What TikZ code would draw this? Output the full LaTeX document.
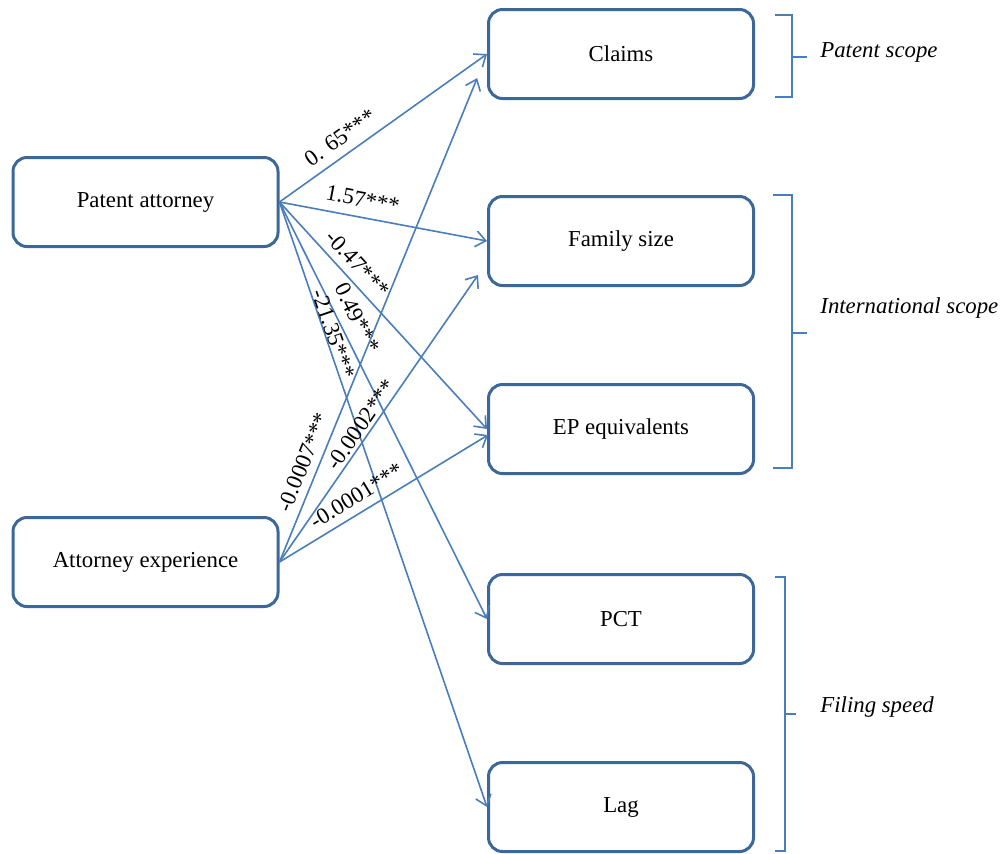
\documentclass[tikz,border=0pt]{standalone}
\usepackage{fontspec}
\setmainfont{Liberation Serif}
\usetikzlibrary{arrows.meta}
\definecolor{boxc}{HTML}{3B6799}
\definecolor{linec}{HTML}{4A7EBB}
\tikzset{
  ar/.style={-{Straight Barb[length=5pt,width=8pt]},line width=0.8pt,linec},
  box/.style={draw=boxc,line width=1.5pt,rounded corners=7pt,fill=white,minimum width=132.5pt,minimum height=44.5pt,inner sep=0pt,font=\fontsize{11.4}{13}\selectfont},
  lbl/.style={font=\fontsize{11.4}{13}\selectfont,text=black,sloped,inner sep=1pt},
  brk/.style={line width=0.8pt,linec},
  grp/.style={font=\fontsize{11.4}{13}\selectfont\itshape,anchor=west,inner sep=0pt}
}
\begin{document}
\begin{tikzpicture}[x=0.5pt,y=-0.5pt]
\useasboundingbox (0,0) rectangle (1000,853);
\node[box] (pa) at (145.5,202) {Patent attorney};
\node[box] (ae) at (145.5,562) {Attorney experience};
\node[box] (cl) at (621,54) {Claims};
\node[box] (fs) at (621,241) {Family size};
\node[box] (ep) at (621,429) {EP equivalents};
\node[box] (pct) at (621,619) {PCT};
\node[box] (lag) at (621,807) {Lag};
\coordinate (fsin) at (478,275);
\coordinate (epin) at (488,435);
\draw[ar] (pa.east) -- node[lbl,pos=0.34,above=3.4pt] {0. 65***} (cl.west);
\draw[ar] (pa.east) -- node[lbl,pos=0.385,above=3.7pt] {1.57***} (fs.west);
\draw[ar] (pa.east) -- node[lbl,pos=0.32,above=2.8pt] {-0.47***} (ep.west);
\draw[ar] (pa.east) -- node[lbl,pos=0.297,above=3.8pt] {0.49***} (pct.west);
\draw[ar] (pa.east) -- node[lbl,pos=0.222,above=-1.2pt] {-21.35***} (lag.west);
\draw[ar,shorten >=13pt] (ae.east) -- node[lbl,pos=0.185,above=2.6pt] {-0.0007***} (cl.west);
\draw[ar] (ae.east) -- node[lbl,pos=0.457,above=0.3pt] {-0.0002***} (fsin);
\draw[ar] (ae.east) -- node[lbl,pos=0.41,above=3.1pt] {-0.0001***} (epin);
\draw[brk] (775,15) -- (792,15) -- (792,97) -- (775,97);
\draw[brk] (792,57) -- (807,57);
\draw[brk] (773,195) -- (792,195) -- (792,468) -- (773,468);
\draw[brk] (792,333) -- (807,333);
\draw[brk] (775,577) -- (785,577) -- (785,851) -- (775,851);
\draw[brk] (785,714) -- (796,714);
\node[grp] (ps) at (820,52) {Patent scope};
\node[grp] (is) at (820,308) {International scope};
\node[grp] (fsp) at (820,707) {Filing speed};
\end{tikzpicture}
\end{document}
